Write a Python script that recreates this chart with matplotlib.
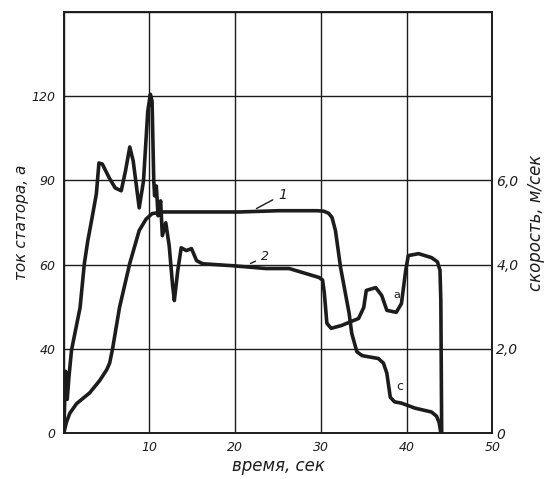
import matplotlib
matplotlib.use("Agg")
import matplotlib.pyplot as plt

# speed curve (1), m/s
speed_t = [0, 0.3, 0.7, 1.5, 3.0, 4.2, 5.0, 5.35, 5.7, 6.5, 7.7, 8.8, 9.6,
           10.3, 11.5, 15.0, 20.5, 25.1, 29.5, 30.3, 30.9, 31.3, 31.7, 32.3,
           33.3, 33.6, 34.2, 34.8, 35.3, 36.7, 37.3, 37.7, 38.1, 38.6, 39.4,
           41.0, 42.9, 43.5, 43.8, 44.0]
speed_v = [0, 0.25, 0.47, 0.70, 0.95, 1.25, 1.50, 1.66, 2.01, 2.98, 4.03, 4.81,
           5.08, 5.21, 5.25, 5.25, 5.25, 5.28, 5.28, 5.27, 5.22, 5.12, 4.81,
           3.93, 2.84, 2.37, 1.93, 1.84, 1.82, 1.77, 1.66, 1.42, 0.85, 0.74,
           0.71, 0.59, 0.50, 0.40, 0.25, 0]

# stator current curve (2), A
current_t = [0, 0.2, 0.4, 0.6, 0.9, 1.9, 2.4, 2.8, 3.3, 3.8, 4.1, 4.5, 5.3,
             6.0, 6.7, 7.2, 7.7, 8.1, 8.8, 9.3, 9.8, 10.1, 10.3, 10.5, 10.6,
             10.8, 11.0, 11.3, 11.5, 11.9, 12.3, 12.7, 12.9, 13.3, 13.7, 14.3,
             14.9, 15.5, 16.2, 19.7, 23.6, 26.3, 29.8, 30.2, 30.4, 30.7, 31.2,
             32.4, 34.4, 35.0, 35.3, 36.4, 37.1, 37.7, 38.8, 39.4, 39.9, 40.2,
             41.4, 42.9, 43.6, 43.9, 44.0, 44.1]
current_a = [0, 22, 12, 20, 29.5, 44.7, 60.4, 68.5, 76.7, 85.2, 96.2, 95.8,
             90.9, 87.3, 86.3, 93.4, 101.9, 96.9, 80.2, 89.8, 114.7, 120.7,
             118.2, 89.8, 84.5, 88.0, 77.4, 82.7, 70.3, 74.9, 66.7, 52.5, 47.2,
             57.9, 66.0, 65.0, 65.7, 61.4, 60.3, 59.6, 58.6, 58.6, 55.4, 54.5,
             50.0, 39.1, 37.3, 38.3, 40.8, 44.7, 50.8, 51.8, 49.0, 43.7, 43.0,
             46.1, 57.9, 63.2, 63.9, 62.5, 61.0, 58.0, 47.2, 0]

x_ticks = [10, 20, 30, 40, 50]
left_ticks = [0, 30, 60, 90, 120]
left_labels = ["0", "40", "60", "90", "120"]
right_ticks = [0, 2, 4, 6]
right_labels = ["0", "2,0", "4,0", "6,0"]

ink = "#1c1c1c"
fig = plt.figure(figsize=(5.5, 4.79), dpi=100)
ax = fig.add_axes([0.116, 0.096, 0.779, 0.879])
ax.set_xlim(0, 50)
ax.set_ylim(0, 150)

ax.plot(current_t, current_a, color=ink, lw=2.6, solid_joinstyle="round",
        solid_capstyle="round")

ax2 = ax.twinx()
ax2.set_ylim(0, 10)
ax2.plot(speed_t, speed_v, color=ink, lw=2.6, solid_joinstyle="round",
         solid_capstyle="round")

# grid
ax.set_xticks([0] + x_ticks)
ax.set_yticks(left_ticks + [150])
ax.grid(True, color=ink, lw=1.0)
ax.set_xticklabels([""] + [str(v) for v in x_ticks], style="italic", fontsize=9)
ax.set_yticklabels(left_labels + [""], style="italic", fontsize=9)
ax.tick_params(length=0, pad=6, colors=ink)
ax2.set_yticks(right_ticks)
ax2.set_yticklabels(right_labels, style="italic", fontsize=10)
ax2.tick_params(length=0, pad=3, colors=ink)
for a in (ax, ax2):
    for s in a.spines.values():
        s.set_color(ink)
        s.set_linewidth(1.2)

ax.set_xlabel("время, сек", style="italic", fontsize=12, color=ink, labelpad=2)
ax.set_ylabel("ток статора, а", style="italic", fontsize=11, color=ink, labelpad=2)
ax2.set_ylabel("скорость, м/сек", style="italic", fontsize=12, color=ink,
               labelpad=6)

# curve labels
ax.annotate("1", xy=(22.2, 79.5), xytext=(25.0, 83.5), fontsize=10,
            style="italic", color=ink,
            arrowprops=dict(arrowstyle="-", color=ink, lw=1))
ax.annotate("2", xy=(21.5, 60.0), xytext=(23.0, 61.5), fontsize=9,
            style="italic", color=ink,
            arrowprops=dict(arrowstyle="-", color=ink, lw=1))
ax.text(38.5, 48.0, "а", fontsize=8, color=ink)
ax.text(38.8, 15.5, "с", fontsize=9, color=ink)

fig.savefig("out.png", dpi=100)
